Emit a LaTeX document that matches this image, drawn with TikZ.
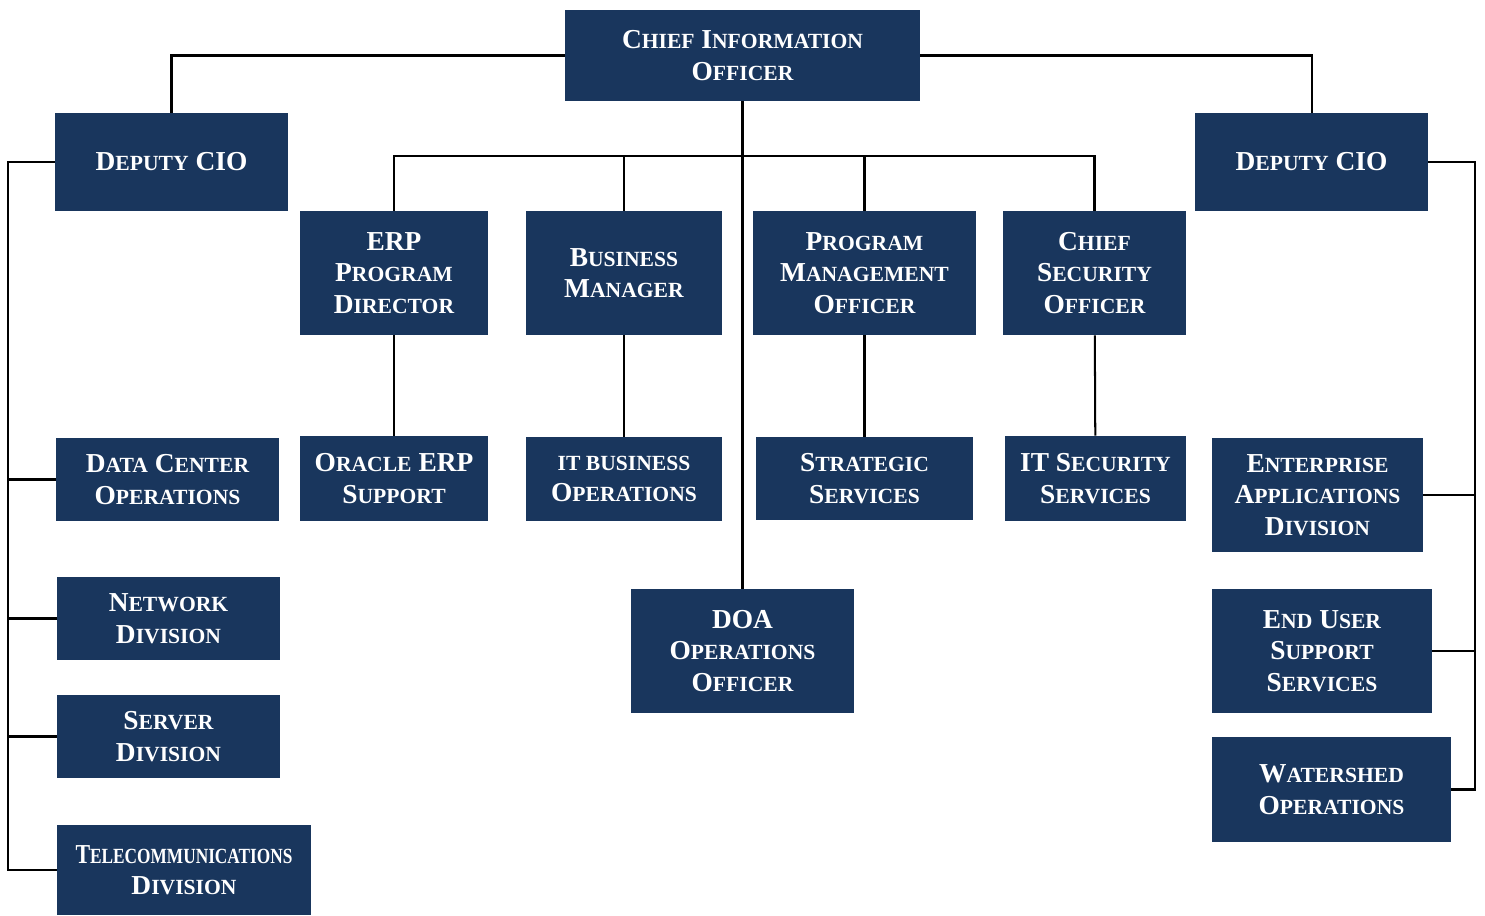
\documentclass[tikz,border=0pt]{standalone}
\usepackage{fontspec}
\setmainfont{Liberation Serif}
\usepackage{tikz}
\usetikzlibrary{positioning, calc}

\definecolor{navy}{RGB}{25,54,93}

% fake small caps: first letter large, the rest in smaller capitals
\newcommand{\scsz}{\fontsize{12.3}{18}\selectfont}
\newcommand{\smcw}[1]{\smcwx#1\relax}
\def\smcwx#1#2\relax{#1{\scsz\MakeUppercase{#2}}}

\begin{document}
\begin{tikzpicture}[
    x=0.02cm, y=-0.02cm,
    unit/.style={rectangle, fill=navy, text=white, align=center, inner sep=0pt,
                 font=\bfseries\fontsize{15.6}{18}\selectfont},
    dims/.style 2 args={minimum width=#1*0.02cm, minimum height=#2*0.02cm},
    link/.style={draw, line width=1.15pt}
    ]
    \useasboundingbox (0,0) rectangle (1485,916);

    \node[unit, dims={355}{91}] (cio) at (742.5,55.5) {\smcw{Chief} \smcw{Information}\\\smcw{Officer}};

    \node[unit, dims={233}{98}] (dep1) at (171.5,162) {\smcw{Deputy} CIO};
    \node[unit, dims={233}{98}] (dep2) at (1311.5,162) {\smcw{Deputy} CIO};

    \node[unit, dims={188}{124}] (erp) at (394,273) {ERP\\\smcw{Program}\\\smcw{Director}};
    \node[unit, dims={196}{124}] (bus) at (624,273) {\smcw{Business}\\\smcw{Manager}};
    \node[unit, dims={223}{124}] (pmo) at (864.5,273) {\smcw{Program}\\\smcw{Management}\\\smcw{Officer}};
    \node[unit, dims={183}{124}] (cso) at (1094.5,273) {\smcw{Chief}\\\smcw{Security}\\\smcw{Officer}};

    \node[unit, dims={188}{85}] (ora) at (394,478.5) {\smcw{Oracle} ERP\\\smcw{Support}};
    \node[unit, dims={196}{84}] (itb) at (624,479) {{\scsz IT BUSINESS}\\\smcw{Operations}};
    \node[unit, dims={217}{83}] (str) at (864.5,478.5) {\smcw{Strategic}\\\smcw{Services}};
    \node[unit, dims={181}{85}] (its) at (1095.5,478.5) {IT \smcw{Security}\\\smcw{Services}};

    \node[unit, dims={223}{124}] (doa) at (742.5,651) {DOA\\\smcw{Operations}\\\smcw{Officer}};

    \node[unit, dims={223}{83}] (dco) at (167.5,479.5) {\smcw{Data} \smcw{Center}\\\smcw{Operations}};
    \node[unit, dims={223}{83}] (net) at (168.5,618.5) {\smcw{Network}\\\smcw{Division}};
    \node[unit, dims={223}{83}] (srv) at (168.5,736.5) {\smcw{Server}\\\smcw{Division}};
    \node[unit, dims={254}{90}] (tel) at (184,870) {\scalebox{0.8}[1]{\smcw{Telecommunications}}\\\smcw{Division}};

    \node[unit, dims={211}{114}] (ead) at (1317.5,495) {\smcw{Enterprise}\\\smcw{Applications}\\\smcw{Division}};
    \node[unit, dims={220}{124}] (eus) at (1322,651) {\smcw{End} \smcw{User}\\\smcw{Support}\\\smcw{Services}};
    \node[unit, dims={239}{105}] (wat) at (1331.5,789.5) {\smcw{Watershed}\\\smcw{Operations}};

    % spines and bar
    \coordinate (bar) at (742,156);
    \coordinate (lspine) at (8,0);
    \coordinate (rspine) at (1475,0);

    % top level
    \draw[link] (cio.west) -| (dep1.north);
    \draw[link] (cio.east) -| (dep2.north);
    \draw[link] (cio.south) -- (doa.north);
    \draw[link] (erp.north) |- (bar) -| (cso.north);
    \draw[link] (bus.north) -- (bus.north |- bar);
    \draw[link] (pmo.north) -- (pmo.north |- bar);

    % second level
    \draw[link] (erp) -- (ora);
    \draw[link] (bus) -- (itb);
    \draw[link] (pmo) -- (str);
    \draw[link] (cso) -- (its);

    % left deputy
    \draw[link] (dep1.west) -- (dep1.west -| lspine) |- (tel.west);
    \foreach \n in {dco,net,srv}
        \draw[link] (\n.west -| lspine) -- (\n.west);

    % right deputy
    \draw[link] (dep2.east) -- (dep2.east -| rspine) |- (wat.east);
    \foreach \n in {ead,eus}
        \draw[link] (\n.east) -- (\n.east -| rspine);

\end{tikzpicture}
\end{document}
